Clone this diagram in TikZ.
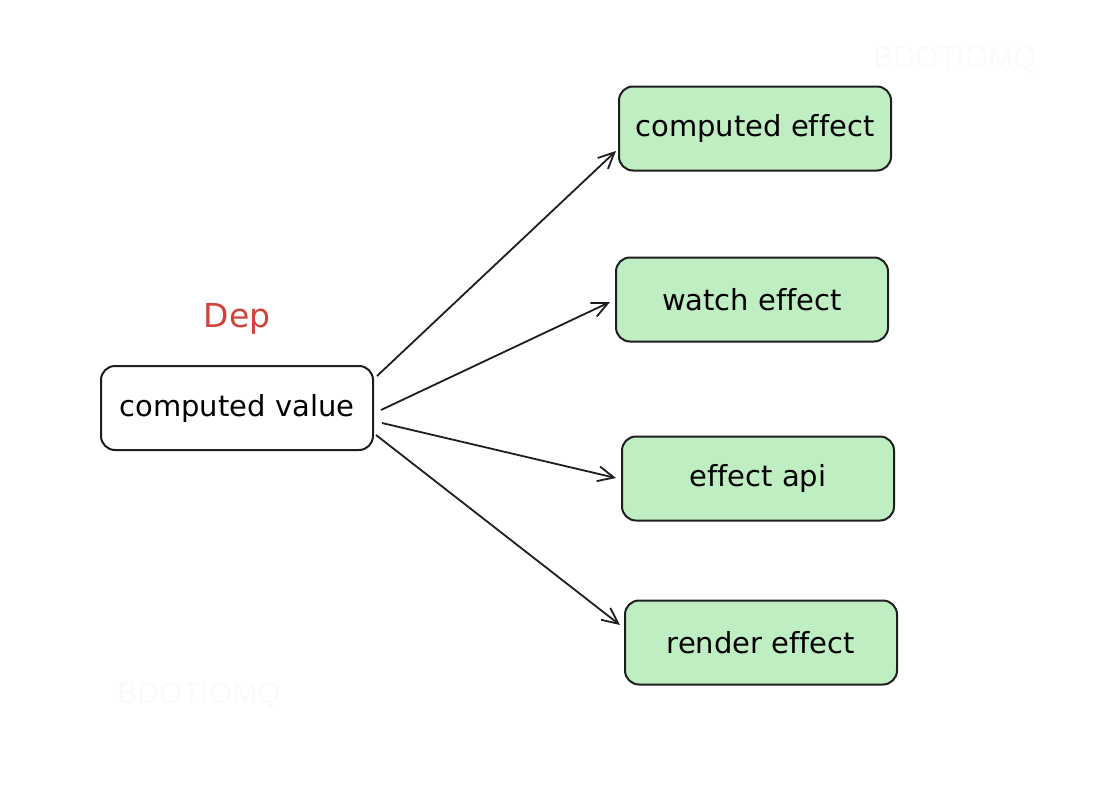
\documentclass[tikz,border=0pt]{standalone}
\usepackage{fontspec}
\setmainfont[Ligatures=CommonOff]{DejaVu Sans}
\newfontfamily\wmfont{Liberation Sans}
\usetikzlibrary{arrows.meta}
\definecolor{boxgreen}{RGB}{192,238,195}
\definecolor{deplabel}{RGB}{208,67,58}
\definecolor{inkline}{RGB}{30,30,30}
\definecolor{wmark}{RGB}{250,250,250}
\tikzset{
  whitebox/.style={draw=inkline, line width=2pt, rounded corners=14pt, fill=white,
    minimum width=272pt, minimum height=84pt, inner sep=0pt, font=\fontsize{29}{34}\selectfont},
  greenbox/.style={whitebox, fill=boxgreen},
  conn/.style={draw=inkline, line width=1.8pt, -{Straight Barb[length=16pt,width=15pt,line width=1.8pt]}},
  wmtext/.style={text=wmark, font=\wmfont\fontsize{30}{34}\selectfont},
}
\begin{document}
\begin{tikzpicture}[x=1pt,y=-1pt]
\useasboundingbox (0,0) rectangle (1100,795);
\node[wmtext] (wm1) at (955,60) {BDOTIOMQ};
\node[wmtext] (wm2) at (199,696) {BDOTIOMQ};
\node[whitebox] (cv) at (237,408) {computed value};
\node[text=deplabel, font=\fontsize{33}{38}\selectfont] (dep) at (237,319) {Dep};
\node[greenbox] (ce) at (755,128.5) {computed effect};
\node[greenbox] (we) at (752,299.5) {watch effect};
\node[greenbox] (ea) at (758,478.5) {effect api};
\node[greenbox] (re) at (761,642.5) {render effect};
\draw[conn] ([shift={(3,-32)}]cv.east) -- ([shift={(-2,22.5)}]ce.west);
\draw[conn] ([shift={(7,2)}]cv.east) -- ([shift={(-5,2.5)}]we.west);
\draw[conn] ([shift={(8,15)}]cv.east) -- ([shift={(-5,-0.5)}]ea.west);
\draw[conn] ([shift={(2,27)}]cv.east) -- ([shift={(-4,-17.5)}]re.west);
\end{tikzpicture}
\end{document}
